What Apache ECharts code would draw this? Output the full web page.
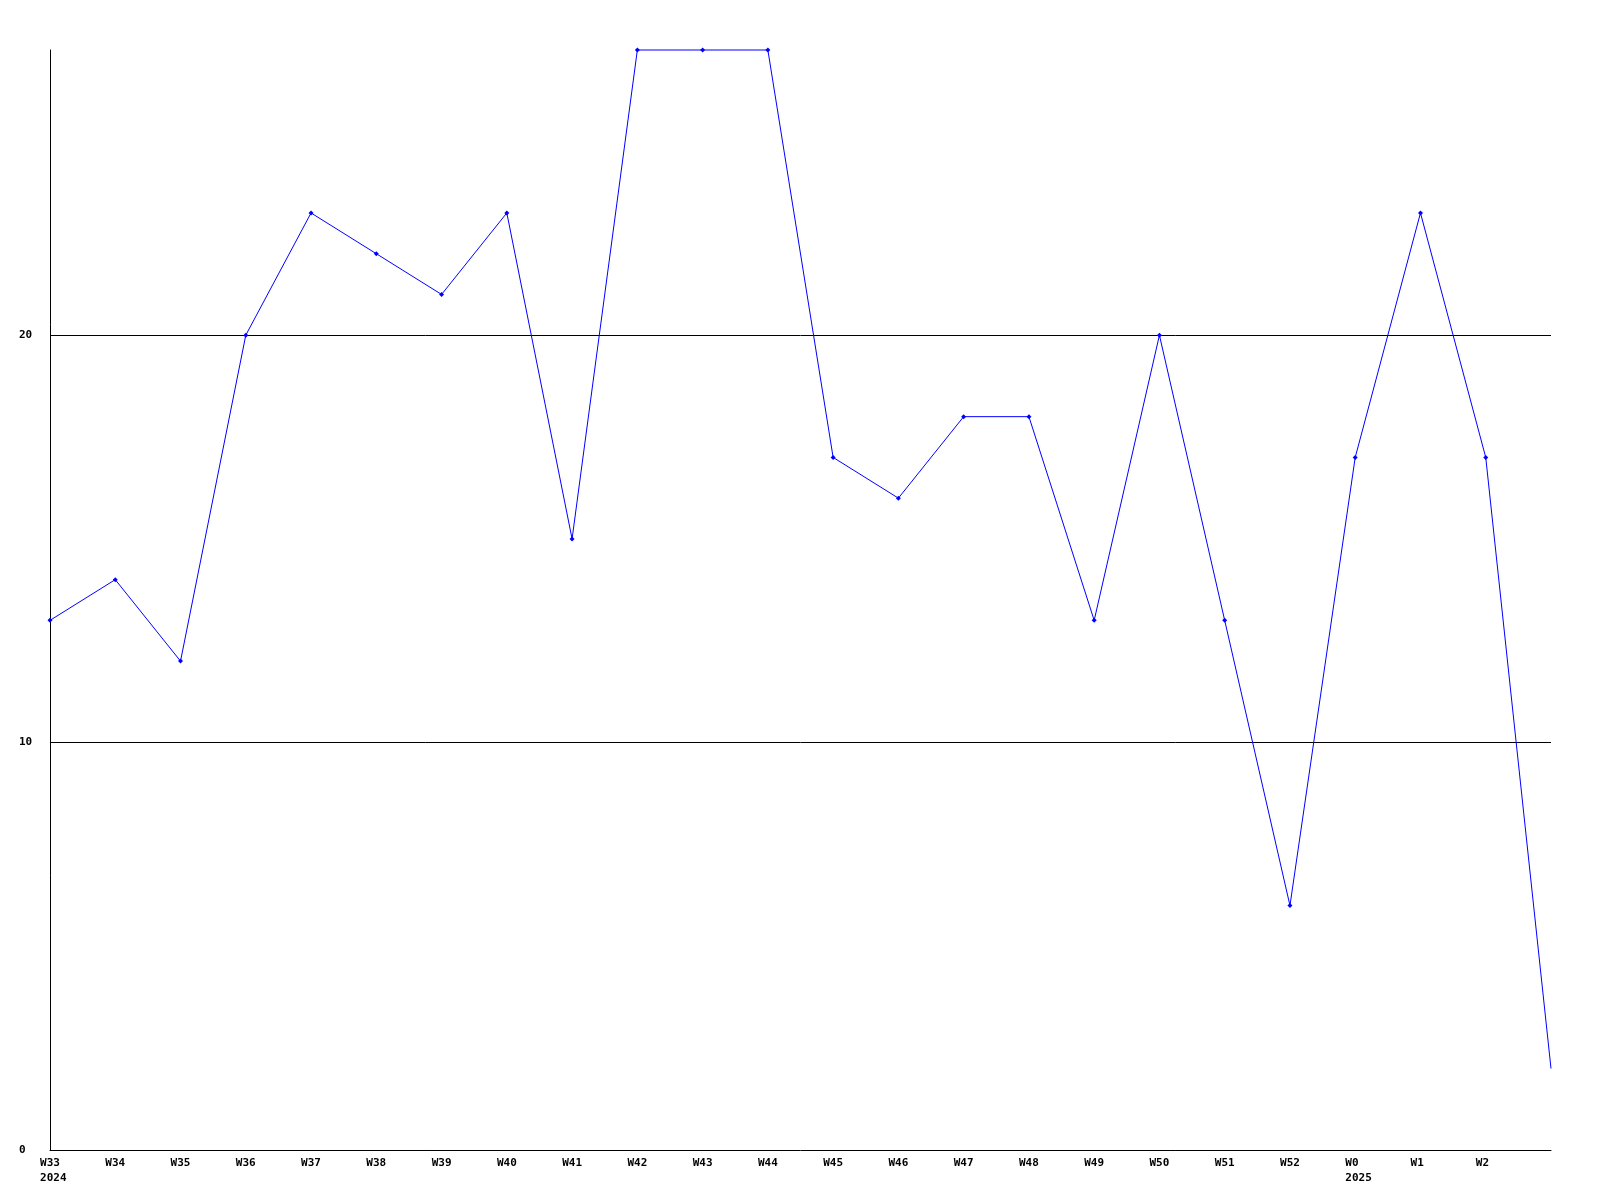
<!DOCTYPE html>
<html><head><meta charset="utf-8">
<script src="https://cdn.jsdelivr.net/npm/echarts@6/dist/echarts.min.js"></script>
<style>html,body{margin:0;padding:0;background:#fff}#c{width:1600px;height:1200px}</style>
</head><body><div id="c"></div>
<script>
const weeks = ["W33","W34","W35","W36","W37","W38","W39","W40","W41","W42","W43","W44","W45","W46","W47","W48","W49","W50","W51","W52","W0","W1","W2",""];
const years = ["2024","","","","","","","","","","","","","","","","","","","","2025","","",""];
const values = [13,14,12,20,23,22,21,23,15,27,27,27,17,16,18,18,13,20,13,6,17,23,17,2];
const yTicks = [0,10,20];

function pad(s, n){ while (s.length < n) s += ' '; return s; }
const cats = weeks.map((w,i)=>i);
const seriesData = values.map((v,i)=> i === values.length-1 ? {value:v, symbol:'none'} : v);

const chart = echarts.init(document.getElementById('c'));
chart.setOption({
  animation:false,
  backgroundColor:'#ffffff',
  grid:{left:50,right:49,top:50,bottom:50,containLabel:false},
  xAxis:{
    type:'category', data:cats, boundaryGap:false,
    axisLine:{show:true,lineStyle:{color:'#000',width:1}},
    axisTick:{show:false},
    splitLine:{show:false},
    axisLabel:{
      interval:0, margin:6, align:'center',
      fontFamily:'DejaVu Sans Mono', fontWeight:'bold', fontSize:11, lineHeight:15, color:'#000',
      formatter:function(v){
        const i = +v;
        const w = ' ' + pad(weeks[i],4);
        return years[i] ? w + '\n ' + pad(years[i],4) : w;
      }
    }
  },
  yAxis:{
    type:'value', min:0, max:27, interval:10,
    axisLine:{show:true,lineStyle:{color:'#000',width:1}},
    axisTick:{show:false},
    splitLine:{show:true,showMinLine:false,showMaxLine:false,lineStyle:{color:'#000',width:1}},
    axisLabel:{
      showMaxLabel:false, align:'left', margin:31,
      fontFamily:'DejaVu Sans Mono', fontWeight:'bold', fontSize:11, color:'#000',
      formatter:function(v){ return yTicks.indexOf(v) >= 0 ? String(v) : ''; }
    }
  },
  series:[{
    type:'line', data:seriesData,
    lineStyle:{color:'#0000ff',width:1},
    itemStyle:{color:'#0000ff'},
    symbol:'diamond', symbolSize:5, showSymbol:true,
    clip:false
  }]
});
</script></body></html>
